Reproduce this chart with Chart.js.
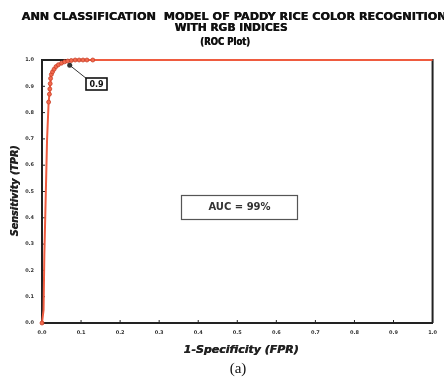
<!DOCTYPE html>
<html>
<head>
<meta charset="utf-8">
<script src="https://cdn.jsdelivr.net/npm/chart.js@4/dist/chart.umd.min.js"></script>
<style>
  html, body { margin: 0; padding: 0; background: #fff; }
  #wrap { width: 444px; height: 379px; }
</style>
</head>
<body>
<div id="wrap"><canvas id="roc" width="444" height="379"></canvas></div>
<script>
/* ---- ROC data ---- */
const fpr = [0, 0.004, 0.006, 0.010, 0.013, 0.017, 0.019, 0.020, 0.021, 0.022, 0.024, 0.027, 0.031, 0.036, 0.042, 0.050, 0.058, 0.066, 0.075, 0.085, 0.095, 0.105, 0.115, 0.130, 1.0];
const tpr = [0, 0.05, 0.26, 0.51, 0.70, 0.84, 0.87, 0.89, 0.91, 0.93, 0.945, 0.955, 0.965, 0.975, 0.982, 0.988, 0.993, 0.996, 0.998, 1.0, 1.0, 1.0, 1.0, 1.0, 1.0];
const xTicks = [0, 0.1, 0.2, 0.3, 0.4, 0.5, 0.6, 0.7, 0.8, 0.9, 1.0];
const yTicks = [0, 0.1, 0.2, 0.3, 0.4, 0.5, 0.6, 0.7, 0.8, 0.9, 1.0];
const titleLines = ['ANN CLASSIFICATION  MODEL OF PADDY RICE COLOR RECOGNITION', 'WITH RGB INDICES', '(ROC Plot)'];
const xTitle = '1-Specificity (FPR)';
const yTitle = 'Sensitivity (TPR)';
const aucLabel = 'AUC = 99%';
const cutoffLabel = '0.9';
const cutoffPoint = [0.071, 0.98];
const caption = '(a)';

const RED = '#ef5b3f';

// draw text squeezed/stretched to a given width (heavy = overprint for a blacker look)
function fitText(ctx, text, cx, cy, w, heavy) {
  const m = ctx.measureText(text).width;
  ctx.save();
  ctx.translate(cx, cy);
  ctx.scale(w / m, 1);
  ctx.fillText(text, 0, 0);
  if (heavy) ctx.fillText(text, 0.5 * m / w, 0);
  ctx.restore();
}

const framePlugin = {
  id: 'frame',
  beforeDatasetsDraw(chart) {
    const { ctx, chartArea: a, scales } = chart;
    ctx.save();
    ctx.strokeStyle = '#222';
    ctx.lineWidth = 2;
    ctx.beginPath();
    ctx.moveTo(a.left, a.top); ctx.lineTo(a.right, a.top); ctx.lineTo(a.right, a.bottom);
    ctx.stroke();
    // small inward tick marks
    ctx.lineWidth = 1;
    xTicks.forEach((v) => {
      const px = scales.x.getPixelForValue(v);
      ctx.beginPath(); ctx.moveTo(px, a.bottom); ctx.lineTo(px, a.bottom - 3); ctx.stroke();
    });
    yTicks.forEach((v) => {
      const py = scales.y.getPixelForValue(v);
      ctx.beginPath(); ctx.moveTo(a.left, py); ctx.lineTo(a.left + 3, py); ctx.stroke();
    });
    ctx.restore();
  },
  afterDraw(chart) {
    const { ctx, scales } = chart;
    ctx.save();
    ctx.textAlign = 'center';
    ctx.textBaseline = 'middle';

    /* title */
    ctx.fillStyle = '#111';
    ctx.font = 'bold 11px "DejaVu Sans"';
    fitText(ctx, titleLines[0], 234, 16.7, 425, true);
    fitText(ctx, titleLines[1], 231, 28.5, 113, true);
    fitText(ctx, titleLines[2], 225, 42, 50, true);

    /* axis titles */
    ctx.fillStyle = '#222';
    ctx.font = 'italic bold 10px "DejaVu Sans"';
    fitText(ctx, xTitle, 241, 350, 115, true);
    ctx.save();
    ctx.translate(15, 191);
    ctx.rotate(-Math.PI / 2);
    fitText(ctx, yTitle, 0, 0, 91, true);
    ctx.restore();

    /* caption */
    ctx.fillStyle = '#111';
    ctx.font = '15px "Liberation Serif"';
    ctx.fillText(caption, 238, 369);

    /* AUC box */
    ctx.strokeStyle = '#555';
    ctx.lineWidth = 1.2;
    ctx.strokeRect(181.5, 195.5, 116, 24);
    ctx.fillStyle = '#333';
    ctx.font = 'bold 10px "DejaVu Sans"';
    ctx.fillText(aucLabel, 239.5, 207.5);

    /* cut-off annotation */
    const px = scales.x.getPixelForValue(cutoffPoint[0]);
    const py = scales.y.getPixelForValue(cutoffPoint[1]);
    ctx.strokeStyle = '#333';
    ctx.lineWidth = 1;
    ctx.beginPath(); ctx.moveTo(px, py); ctx.lineTo(87, 79); ctx.stroke();
    ctx.fillStyle = '#333';
    ctx.beginPath(); ctx.arc(px, py, 2.5, 0, Math.PI * 2); ctx.fill();
    ctx.fillStyle = '#fff';
    ctx.fillRect(86, 78, 21, 12);
    ctx.strokeStyle = '#111';
    ctx.lineWidth = 1.6;
    ctx.strokeRect(86, 78, 21, 12);
    ctx.fillStyle = '#111';
    ctx.font = 'bold 8px "DejaVu Sans"';
    ctx.fillText(cutoffLabel, 96.5, 84.5);
    ctx.restore();
  }
};

const tickFont = { size: 5, weight: 'bold', family: 'DejaVu Sans' };

new Chart(document.getElementById('roc'), {
  type: 'scatter',
  data: {
    datasets: [{
      data: fpr.map((x, i) => ({ x, y: tpr[i] })),
      showLine: true,
      borderColor: RED,
      borderWidth: 2,
      pointRadius: (c) => {
        const i = c.dataIndex;
        return (i === 0 || (tpr[i] >= 0.84 && fpr[i] < 0.2)) ? 2 : 0;
      },
      pointBackgroundColor: '#f36a4e',
      pointBorderColor: '#c9412a',
      pointBorderWidth: 0.8,
      clip: 5,
    }],
  },
  options: {
    responsive: false,
    devicePixelRatio: 1,
    animation: false,
    layout: { padding: { top: 60, right: 7, left: 0, bottom: 0 } },
    plugins: { legend: { display: false }, tooltip: { enabled: false } },
    scales: {
      x: {
        type: 'linear', min: 0, max: 1,
        afterBuildTicks: (s) => { s.ticks = xTicks.map((v) => ({ value: v })); },
        afterFit: (s) => { s.height = 56; },
        ticks: { callback: (v) => v.toFixed(1), font: tickFont, color: '#333', padding: 7, maxRotation: 0, autoSkip: false },
        grid: { drawOnChartArea: false, drawTicks: false },
        border: { color: '#222', width: 2 },
      },
      y: {
        type: 'linear', min: 0, max: 1,
        afterBuildTicks: (s) => { s.ticks = yTicks.map((v) => ({ value: v })); },
        afterFit: (s) => { s.width = 42; },
        ticks: { callback: (v) => v.toFixed(1), font: tickFont, color: '#333', padding: 8, autoSkip: false },
        grid: { drawOnChartArea: false, drawTicks: false },
        border: { color: '#222', width: 2 },
      },
    },
  },
  plugins: [framePlugin],
});
</script>
</body>
</html>
